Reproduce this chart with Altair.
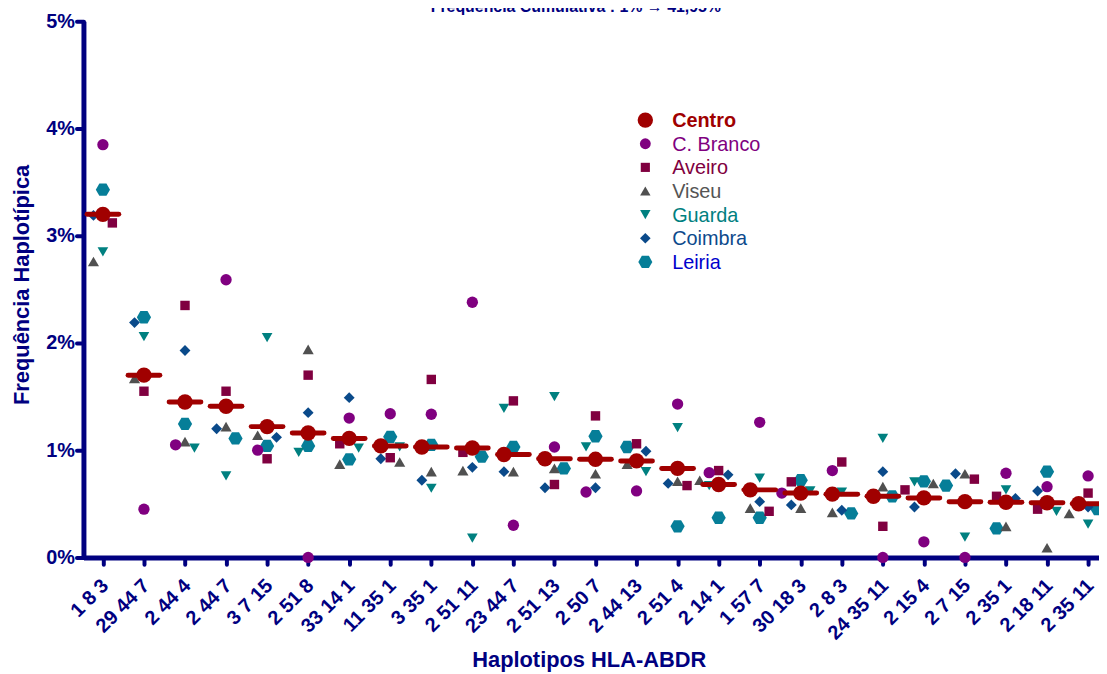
import json
import altair as alt
import pandas as pd

# ---------------- data ----------------
haplotypes = ["1 8 3", "29 44 7", "2 44 4", "2 44 7", "3 7 15", "2 51 8", "33 14 1",
              "11 35 1", "3 35 1", "2 51 11", "23 44 7", "2 51 13", "2 50 7", "2 44 13",
              "2 51 4", "2 14 1", "1 57 7", "30 18 3", "2 8 3", "24 35 11", "2 15 4",
              "2 7 15", "2 35 1", "2 18 11", "2 35 11"]

series = ["Centro", "C. Branco", "Aveiro", "Viseu", "Guarda", "Coimbra", "Leiria"]

centro = [3.20, 1.70, 1.45, 1.41, 1.22, 1.16, 1.11, 1.04, 1.03, 1.02, 0.96, 0.92, 0.915,
          0.90, 0.83, 0.68, 0.63, 0.60, 0.59, 0.57, 0.555, 0.52, 0.515, 0.51, 0.50]
c_branco = [3.85, 0.45, 1.05, 2.59, 1.00, 0.00, 1.30, 1.34, 1.335, 2.38, 0.30, 1.03, 0.61,
            0.62, 1.43, 0.79, 1.26, 0.60, 0.81, 0.00, 0.145, 0.00, 0.785, 0.66, 0.76]
aveiro = [3.12, 1.55, 2.35, 1.55, 0.92, 1.70, 1.06, 0.93, 1.66, 0.98, 1.46, 0.68, 1.32,
          1.06, 0.67, 0.81, 0.43, 0.705, 0.89, 0.29, 0.63, 0.73, 0.57, 0.45, 0.60]
viseu = [2.76, 1.67, 1.08, 1.22, 1.14, 1.94, 0.87, 0.89, 0.80, 0.81, 0.80, 0.83, 0.78,
         0.87, 0.71, 0.72, 0.46, 0.46, 0.42, 0.66, 0.69, 0.78, 0.29, 0.09, 0.41]
guarda = [2.85, 2.06, 1.02, 0.76, 2.05, 0.98, 1.02, 1.03, 0.645, 0.18, 1.39, 1.50, 1.03,
          0.80, 1.21, 0.67, 0.74, 0.62, 0.61, 1.11, 0.705, 0.19, 0.63, 0.43, 0.31]
coimbra = [3.19, 2.19, 1.93, 1.20, 1.12, 1.35, 1.49, 0.92, 0.72, 0.84, 0.80, 0.65, 0.65,
           0.99, 0.69, 0.77, 0.52, 0.49, 0.44, 0.80, 0.47, 0.78, 0.55, 0.62, 0.47]
leiria = [3.43, 2.24, 1.245, 1.11, 1.04, 1.04, 0.915, 1.125, 1.05, 0.94, 1.03, 0.83, 1.13,
          1.03, 0.29, 0.37, 0.37, 0.72, 0.41, 0.57, 0.71, 0.67, 0.27, 0.80, 0.45]

y_ticks = [0, 1, 2, 3, 4, 5]
top_text = "Frequência Cumulativa : 1% \u2192 41,95%"
x_title = "Haplotipos HLA-ABDR"
y_title = "Frequência Haplotípica"

values = dict(zip(series, [centro, c_branco, aveiro, viseu, guarda, coimbra, leiria]))

# ---------------- styles ----------------
FONT = "Liberation Sans"
NAVY = "#000080"
colors = ["#A00000", "#800080", "#800040", "#505050", "#008080", "#0A4A8A", "#067E98"]
label_colors = ["#A00000", "#800080", "#800040", "#555555", "#008080", "#0D4A8C", "#0000CC"]
hexagon = "M-1,0L-0.5,-0.866L0.5,-0.866L1,0L0.5,0.866L-0.5,0.866Z"
shapes = ["circle", "circle", "square", "triangle-up", "triangle-down", "diamond", hexagon]
sizes = [240, 130, 90, 125, 115, 120, 205]
legend_sizes = [240, 120, 85, 110, 110, 115, 200]

# beeswarm-like horizontal spreading of points within a column (computed)
PX_PER_UNIT = 108.0
SLOT = 0.23
rows = []
for i, h in enumerate(haplotypes):
    pts = sorted([(values[s][i], j, s) for j, s in enumerate(series)], key=lambda t: (-t[0], t[1]))
    placed = []
    for v, j, s in pts:
        chosen = 0
        for k in [0, -1, 1, -2, 2, -3, 3]:
            if all(not (pk == k and abs(pv - v) * PX_PER_UNIT < 12) for pv, pk in placed):
                chosen = k
                break
        placed.append((v, chosen))
        rows.append(dict(idx=i, hap=h, serie=s, value=v, slot=chosen))
df = pd.DataFrame(rows)

W, H = 1023, 540
x_scale = alt.Scale(domain=[-0.474, 24.266], nice=False, zero=False)
y_scale = alt.Scale(domain=[0, 5], nice=False, zero=True)

label_expr = json.dumps(haplotypes) + "[datum.value]"

x_axis = alt.Axis(values=list(range(len(haplotypes))), labelExpr=label_expr, labelAngle=-45,
                  labelAlign="right", labelBaseline="middle", labelFont=FONT, labelFontSize=20,
                  labelFontWeight="bold", labelColor=NAVY, labelPadding=18, labelOffset=2,
                  labelFlush=False, labelOverlap=False, tickSize=7, tickWidth=4, tickColor=NAVY,
                  tickCap="round", domainColor=NAVY, domainWidth=5, grid=False,
                  title=x_title, titleFont=FONT, titleFontSize=22, titleFontWeight="bold",
                  titleColor=NAVY, titleX=509, titleY=103, titleAlign="center",
                  titleBaseline="middle")
y_axis = alt.Axis(values=y_ticks, labelExpr="datum.value + '%'", labelFont=FONT,
                  labelFontSize=20, labelFontWeight="bold", labelColor=NAVY, labelPadding=2,
                  labelFlush=False, tickSize=7, tickWidth=4, tickColor=NAVY, tickCap="round",
                  domainColor=NAVY, domainWidth=5, grid=False,
                  title=y_title, titleFont=FONT, titleFontSize=22, titleFontWeight="bold",
                  titleColor=NAVY, titleX=-62, titleY=265, titleAngle=270, titleAlign="center",
                  titleBaseline="middle")

base = alt.Chart(df).transform_calculate(xj=f"datum.idx + datum.slot * {SLOT}")

layers = []
draw_order = ["Leiria", "Coimbra", "Guarda", "Viseu", "Aveiro", "C. Branco"]
for s in draw_order:
    j = series.index(s)
    layers.append(
        base.transform_filter(alt.datum.serie == s)
        .mark_point(filled=True, opacity=1, shape=shapes[j], size=sizes[j], color=colors[j],
                    strokeWidth=0)
        .encode(x=alt.X("xj:Q", scale=x_scale, axis=x_axis),
                y=alt.Y("value:Q", scale=y_scale, axis=y_axis))
    )

# Centro: horizontal line at its value plus its marker
layers.append(
    alt.Chart(df).transform_filter(alt.datum.serie == "Centro")
    .transform_calculate(xa="datum.idx - 0.387", xb="datum.idx + 0.387")
    .mark_rule(color=colors[0], strokeWidth=5, strokeCap="round")
    .encode(x=alt.X("xa:Q", scale=x_scale), x2="xb:Q", y=alt.Y("value:Q", scale=y_scale))
)
layers.append(
    base.transform_filter(alt.datum.serie == "Centro")
    .mark_point(filled=True, opacity=1, shape=shapes[0], size=sizes[0], color=colors[0],
                strokeWidth=0)
    .encode(x=alt.X("xj:Q", scale=x_scale), y=alt.Y("value:Q", scale=y_scale))
)

# manual legend
for j, s in enumerate(series):
    ly = 99.5 + j * 23.8
    ld = pd.DataFrame({"label": [s]})
    layers.append(
        alt.Chart(ld).mark_point(filled=True, opacity=1, shape=shapes[j], size=legend_sizes[j],
                                 color=colors[j], strokeWidth=0)
        .encode(x=alt.value(566), y=alt.value(ly))
    )
    layers.append(
        alt.Chart(ld).mark_text(align="left", baseline="middle", font=FONT, fontSize=20,
                                fontWeight="bold" if s == "Centro" else "normal",
                                color=label_colors[j])
        .encode(x=alt.value(593), y=alt.value(ly + 1), text="label:N")
    )

# partially visible heading at the very top (cut by the top edge, as in the reference)
layers.append(
    alt.Chart(pd.DataFrame({"t": [top_text]}))
    .mark_text(align="center", baseline="bottom", font=FONT, fontSize=16, fontWeight="bold",
               color=NAVY)
    .encode(x=alt.value(496), y=alt.value(-6), text="t:N")
)

chart = alt.layer(*layers).properties(
    width=W, height=H,
    autosize=alt.AutoSizeParams(type="none"),
    padding={"left": 76, "top": 11, "right": 0, "bottom": 115},
    background="white",
).configure_view(stroke=None)

chart.save("out.html", embed_options={"renderer": "svg", "actions": False})
